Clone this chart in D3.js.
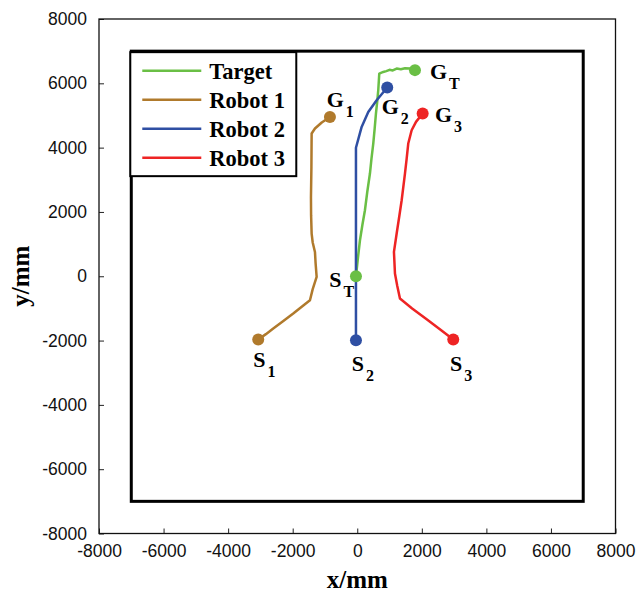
<!DOCTYPE html>
<html>
<head>
<meta charset="utf-8">
<script src="https://cdn.jsdelivr.net/npm/d3@7"></script>
<style>
  body { margin: 0; background: #fff; }
  svg { display: block; }
</style>
</head>
<body>
<div id="display"></div>
<script>
// tick values for both axes
const ticks = [-8000, -6000, -4000, -2000, 0, 2000, 4000, 6000, 8000];

// trajectories (mm)
const targetPath = [
  [-40, 0], [20, 560], [84, 1120], [160, 1600], [238, 2053], [310, 2620],
  [393, 3194], [440, 3650], [496, 4127], [540, 4600], [579, 5060],
  [620, 5450], [651, 5785], [670, 6100], [682, 6304], [805, 6354],
  [900, 6380], [1000, 6420], [1100, 6400], [1221, 6460], [1350, 6440],
  [1480, 6470], [1633, 6460], [1788, 6410]
];
const robot1Path = [
  [-3067, -1969], [-2830, -1800], [-2602, -1627], [-2300, -1400],
  [-1983, -1160], [-1700, -930], [-1465, -746], [-1380, -400],
  [-1258, -22], [-1290, 400], [-1310, 756], [-1380, 1050],
  [-1413, 1328], [-1430, 1900], [-1434, 2466], [-1420, 3400],
  [-1413, 4438], [-1310, 4593], [-1100, 4780], [-846, 4954]
];
const robot2Path = [
  [-40, -1990], [-40, 1000], [-40, 3996], [136, 4643],
  [341, 5110], [601, 5474], [929, 5869]
];
const robot3Path = [
  [2974, -1969], [2600, -1680], [2150, -1340], [1700, -1000],
  [1323, -694], [1240, -300], [1168, 84], [1137, 756], [1221, 1328],
  [1300, 1850], [1376, 2364], [1478, 3194], [1530, 3650],
  [1580, 4127], [1685, 4541], [1820, 4800], [2026, 5060]
];

const seriesNames = ['Target', 'Robot 1', 'Robot 2', 'Robot 3'];
const seriesColors = ['#6abf45', '#b07a2c', '#2f4fa3', '#ee2424'];
const seriesPaths = [targetPath, robot1Path, robot2Path, robot3Path];

// point labels: [main, subscript, x, y] in mm
const pointLabels = [
  ['G', '1', -948, 5265],
  ['G', 'T', 2252, 6148],
  ['G', '2', 756, 5060],
  ['G', '3', 2407, 4799],
  ['S', 'T', -867, -333],
  ['S', '1', -3222, -2821],
  ['S', '2', -173, -2945],
  ['S', '3', 2872, -2945]
];

// inner boundary of the workspace
const bounds = [-7000, 7000];

const W = 637;
const H = 599;
const margin = {top: 19, right: 21.5, bottom: 65.5, left: 99};
const width = W - margin.left - margin.right;
const height = H - margin.top - margin.bottom;

const svg = d3.select('#display').append('svg')
    .attr('width', W)
    .attr('height', H);

const g = svg.append('g')
    .attr('transform', 'translate(' + margin.left + ',' + margin.top + ')');

const x = d3.scaleLinear().domain([-8000, 8000]).range([0, width]);
const y = d3.scaleLinear().domain([-8000, 8000]).range([height, 0]);

// axes with inward ticks, plain hyphen for negatives
const fmt = (d) => String(d);
const xAxis = g.append('g')
    .attr('transform', 'translate(0,' + height + ')')
    .call(d3.axisBottom(x).tickValues(ticks).tickSize(-5).tickPadding(11)
        .tickFormat(fmt));
const yAxis = g.append('g')
    .call(d3.axisLeft(y).tickValues(ticks).tickSize(-5).tickPadding(12)
        .tickFormat(fmt));

[xAxis, yAxis].forEach((ax) => {
  ax.select('.domain').remove();
  ax.selectAll('line').attr('stroke', '#222').attr('stroke-width', 1);
  ax.selectAll('text')
      .attr('fill', '#111')
      .style('font-family', '"Liberation Sans", Arial, sans-serif')
      .style('font-size', '17.5px');
});

// outer box
g.append('rect')
    .attr('x', 0).attr('y', 0)
    .attr('width', width).attr('height', height)
    .attr('fill', 'none')
    .attr('stroke', '#111')
    .attr('stroke-width', 1.3);

// inner boundary rectangle
g.append('rect')
    .attr('x', x(bounds[0]))
    .attr('y', y(bounds[1]))
    .attr('width', x(bounds[1]) - x(bounds[0]))
    .attr('height', y(bounds[0]) - y(bounds[1]))
    .attr('fill', 'none')
    .attr('stroke', '#000')
    .attr('stroke-width', 3);

const line = d3.line()
    .x((d) => x(d[0]))
    .y((d) => y(d[1]));

seriesPaths.forEach((path, i) => {
  g.append('path')
      .datum(path)
      .attr('d', line)
      .attr('fill', 'none')
      .attr('stroke', seriesColors[i])
      .attr('stroke-width', 2.5)
      .attr('stroke-linejoin', 'round');
});

// start and goal markers
seriesPaths.forEach((path, i) => {
  g.selectAll(null)
      .data([path[0], path[path.length - 1]])
      .enter()
      .append('circle')
      .attr('cx', (d) => x(d[0]))
      .attr('cy', (d) => y(d[1]))
      .attr('r', 6)
      .attr('fill', seriesColors[i]);
});

// G/S labels with subscripts
const labels = g.selectAll('.pt-label')
    .data(pointLabels)
    .enter()
    .append('text')
    .attr('class', 'pt-label')
    .attr('x', (d) => x(d[2]))
    .attr('y', (d) => y(d[3]))
    .style('font-family', '"Liberation Serif", "Times New Roman", serif')
    .style('font-weight', 'bold')
    .style('font-size', '22px')
    .attr('fill', '#000');
labels.append('tspan').text((d) => d[0]);
labels.append('tspan')
    .attr('dx', 2)
    .attr('dy', 10)
    .style('font-size', '16px')
    .text((d) => d[1]);

// legend
const legend = g.append('g')
    .attr('transform', 'translate(' + (x(bounds[0]) - 1) + ',' + (y(bounds[1]) + 1) + ')');
legend.append('rect')
    .attr('width', 166)
    .attr('height', 124)
    .attr('fill', '#fff')
    .attr('stroke', '#000')
    .attr('stroke-width', 2);
seriesNames.forEach((name, i) => {
  const row = legend.append('g')
      .attr('transform', 'translate(0,' + (18.5 + i * 29) + ')');
  row.append('line')
      .attr('x1', 12).attr('x2', 71)
      .attr('stroke', seriesColors[i])
      .attr('stroke-width', 2.5);
  row.append('text')
      .attr('x', 79)
      .attr('y', 8)
      .style('font-family', '"Liberation Serif", "Times New Roman", serif')
      .style('font-weight', 'bold')
      .style('font-size', '22.5px')
      .text(name);
});

// axis titles
svg.append('text')
    .attr('x', margin.left + x(0))
    .attr('y', 588)
    .attr('text-anchor', 'middle')
    .style('font-family', '"Liberation Serif", "Times New Roman", serif')
    .style('font-weight', 'bold')
    .style('font-size', '25px')
    .text('x/mm');
svg.append('text')
    .attr('transform', 'translate(29,' + (margin.top + y(0)) + ') rotate(-90)')
    .attr('text-anchor', 'middle')
    .style('font-family', '"Liberation Serif", "Times New Roman", serif')
    .style('font-weight', 'bold')
    .style('font-size', '25px')
    .text('y/mm');
</script>
</body>
</html>
